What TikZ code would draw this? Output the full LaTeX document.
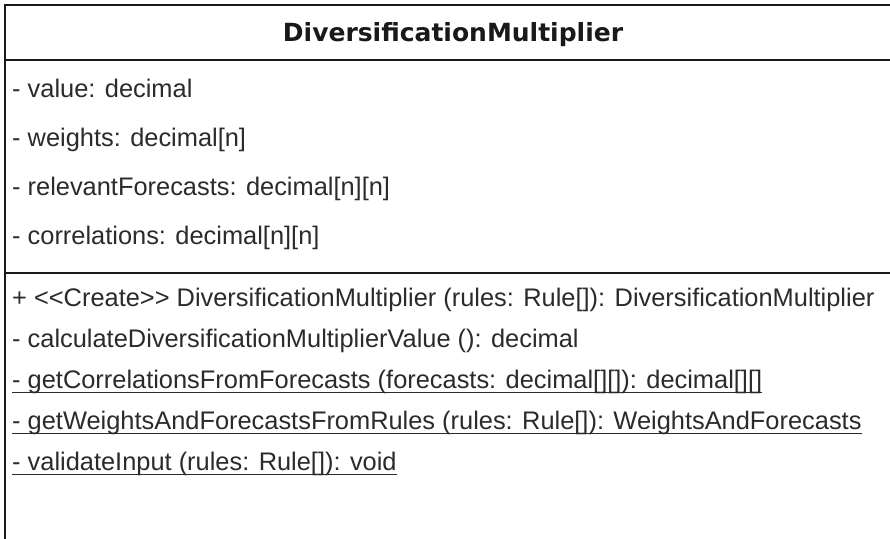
\documentclass[tikz,border=0pt]{standalone}
\usepackage{fontspec}
\usetikzlibrary{calc}
\setmainfont{Liberation Sans}
\newfontfamily\titlefont{DejaVu Sans}
\definecolor{ink}{HTML}{2B2B2B}
\begin{document}
\begin{tikzpicture}[x=1pt,y=1pt,
  frame/.style={line width=2pt,draw=black!90},
  member/.style={anchor=base west,inner sep=0pt,text=ink,
    font=\fontsize{25.4}{30}\selectfont},
  heading/.style={anchor=base,inner sep=0pt,text=black!90,
    font=\titlefont\bfseries\fontsize{25}{30}\selectfont},
  underl/.style={line width=1.4pt,draw=ink}]
\useasboundingbox (0,0) rectangle (890,-538);
\fill[white] (0,0) rectangle (890,-538);

% class outline: open to the right and below
\coordinate (tl) at (5,-5);
\coordinate (tr) at (895,-5);
\coordinate (bl) at (5,-545);
\coordinate (s1l) at (5,-60);
\coordinate (s1r) at (895,-60);
\coordinate (s2l) at (5,-273);
\coordinate (s2r) at (895,-273);
\draw[frame] (bl) -- (tl) -- (tr);
\draw[frame] (s1l) -- (s1r);
\draw[frame] (s2l) -- (s2r);

% class name
\node[heading] (name) at (453,-41) {DiversificationMultiplier};

% attributes
\node[member] (a1) at (12,-97)  {- value: decimal};
\node[member] (a2) at (12,-146) {- weights: decimal[n]};
\node[member] (a3) at (12,-195) {- relevantForecasts: decimal[n][n]};
\node[member] (a4) at (12,-244) {- correlations: decimal[n][n]};

% operations (the last three are static, hence underlined)
\node[member] (m1) at (12,-306) {+ <{}<Create>{}> DiversificationMultiplier (rules: Rule[]): DiversificationMultiplier};
\node[member] (m2) at (12,-347) {- calculateDiversificationMultiplierValue (): decimal};
\node[member] (m3) at (12,-388) {- getCorrelationsFromForecasts (forecasts: decimal[][]): decimal[][]};
\node[member] (m4) at (12,-429) {- getWeightsAndForecastsFromRules (rules: Rule[]): WeightsAndForecasts};
\node[member] (m5) at (12,-470) {- validateInput (rules: Rule[]): void};
\foreach \m in {m3,m4,m5}
  \draw[underl] ($(\m.base west)+(0,-4.5)$) -- ($(\m.base east)+(0,-4.5)$);
\end{tikzpicture}
\end{document}
